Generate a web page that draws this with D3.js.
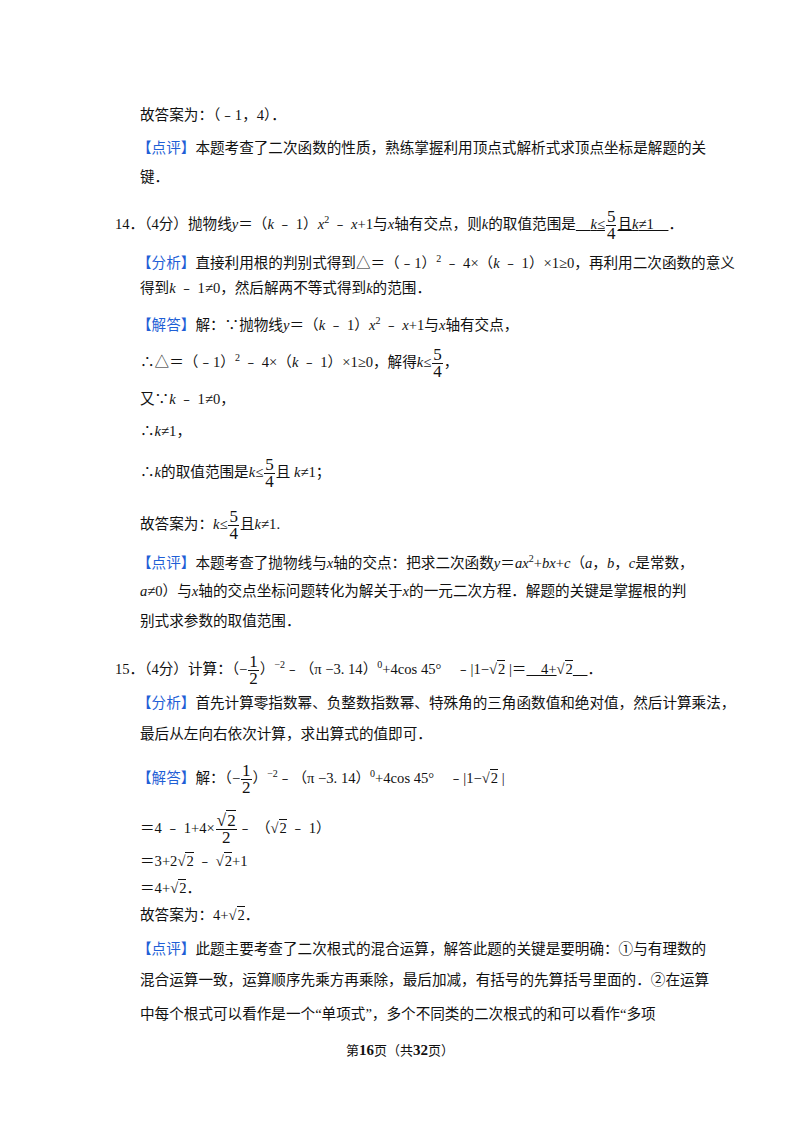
<!DOCTYPE html>
<html><head><meta charset="utf-8">
<script src="https://cdn.jsdelivr.net/npm/d3@7"></script>
<style>
body{margin:0;background:#fff;}
#page{position:relative;width:800px;height:1132px;font-family:"Liberation Serif","Noto Sans CJK SC",serif;font-size:14.6px;color:#111;}
.ln{position:absolute;white-space:nowrap;line-height:20px;}
.bl{color:#1f5fd6;}
.it{font-style:italic;}
.fr{display:inline-block;vertical-align:middle;text-align:center;line-height:16px;font-size:17px;margin:0 1px;}
.fr>span{display:block;}
.fr>.n{border-bottom:1px solid #111;padding:0 1px;}
.sq{border-top:1px solid #111;padding-left:1px;}
.u{text-decoration:underline;}
sup{font-size:10px;}
</style></head><body><div id="page"></div>
<script>
// each line: [left, top, segments]; segment: string | {b} blue | {i} italic | {f:[n,d]} fraction | {s} sqrt | {sup} | {u:[...]} underline
const lines=[
[140,105,["故答案为：（﹣1，4）．"]],
[137,138,[{b:"【点评】"},"本题考查了二次函数的性质，熟练掌握利用顶点式解析式求顶点坐标是解题的关"]],
[140,167,["键．"]],
[115,209,["14．（4分）抛物线",{i:"y"},"＝（",{i:"k"}," ﹣ 1）",{i:"x"},{sup:"2"}," ﹣ ",{i:"x"},"+1与",{i:"x"},"轴有交点，则",{i:"k"},"的取值范围是",{u:["　",{i:"k"},"≤",{f:["5","4"]},"且",{i:"k"},"≠1　"]},"．"]],
[137,249,[{b:"【分析】"},"直接利用根的判别式得到△＝（﹣1）",{sup:"2"}," ﹣ 4×（",{i:"k"}," ﹣ 1）×1≥0，再利用二次函数的意义"]],
[140,278,["得到",{i:"k"}," ﹣ 1≠0，然后解两不等式得到",{i:"k"},"的范围．"]],
[137,311,[{b:"【解答】"},"解：∵抛物线",{i:"y"},"＝（",{i:"k"}," ﹣ 1）",{i:"x"},{sup:"2"}," ﹣ ",{i:"x"},"+1与",{i:"x"},"轴有交点，"]],
[140,347,["∴△＝（﹣1）",{sup:"2"}," ﹣ 4×（",{i:"k"}," ﹣ 1）×1≥0，解得",{i:"k"},"≤",{f:["5","4"]},"，"]],
[140,389,["又∵",{i:"k"}," ﹣ 1≠0，"]],
[140,421,["∴",{i:"k"},"≠1，"]],
[140,457,["∴",{i:"k"},"的取值范围是",{i:"k"},"≤",{f:["5","4"]},"且 ",{i:"k"},"≠1；"]],
[140,509,["故答案为：",{i:"k"},"≤",{f:["5","4"]},"且",{i:"k"},"≠1."]],
[137,549,[{b:"【点评】"},"本题考查了抛物线与",{i:"x"},"轴的交点：把求二次函数",{i:"y"},"＝",{i:"ax"},{sup:"2"},"+",{i:"bx"},"+",{i:"c"},"（",{i:"a"},"，",{i:"b"},"，",{i:"c"},"是常数，"]],
[140,581,[{i:"a"},"≠0）与",{i:"x"},"轴的交点坐标问题转化为解关于",{i:"x"},"的一元二次方程．解题的关键是掌握根的判"]],
[140,611,["别式求参数的取值范围．"]],
[115,654,["15．（4分）计算：（",{f:["1","2"],neg:1},"）",{sup:"−2"},"﹣（π −3. 14）",{sup:"0"},"+4cos 45°　﹣|1−",{s:"2"}," |＝",{u:["　4+"]},{s:"2"},{u:["　"]},"．"]],
[137,693,[{b:"【分析】"},"首先计算零指数幂、负整数指数幂、特殊角的三角函数值和绝对值，然后计算乘法，"]],
[140,724,["最后从左向右依次计算，求出算式的值即可．"]],
[137,763,[{b:"【解答】"},"解：（",{f:["1","2"],neg:1},"）",{sup:"−2"},"﹣（π −3. 14）",{sup:"0"},"+4cos 45°　﹣|1−",{s:"2"}," |"]],
[140,813,["＝4 ﹣ 1+4×",{f:[{s:"2"},"2"]},"﹣ （",{s:"2"}," ﹣ 1）"]],
[140,851,["＝3+2",{s:"2"}," ﹣ ",{s:"2"},"+1"]],
[140,878,["＝4+",{s:"2"},"．"]],
[140,905,["故答案为：4+",{s:"2"},"．"]],
[137,939,[{b:"【点评】"},"此题主要考查了二次根式的混合运算，解答此题的关键是要明确：①与有理数的"]],
[140,970,["混合运算一致，运算顺序先乘方再乘除，最后加减，有括号的先算括号里面的．②在运算"]],
[140,1004,["中每个根式可以看作是一个“单项式”，多个不同类的二次根式的和可以看作“多项"]]
];
const footer=["第","16","页（共","32","页）"];

const page=d3.select("#page");
function render(sel,segs){
  segs.forEach(s=>{
    if(typeof s==="string"){sel.append("span").text(s);return;}
    if(s.b){sel.append("span").attr("class","bl").text(s.b);return;}
    if(s.i){sel.append("span").attr("class","it").text(s.i);return;}
    if(s.sup){sel.append("sup").text(s.sup);return;}
    if(s.s){sel.append("span").text("√");sel.append("span").attr("class","sq").text(s.s);return;}
    if(s.u){render(sel.append("span").attr("class","u"),s.u);return;}
    if(s.f){
      if(s.neg) sel.append("span").text("−");
      const f=sel.append("span").attr("class","fr");
      const n=f.append("span").attr("class","n");
      typeof s.f[0]==="string"?n.text(s.f[0]):render(n,[s.f[0]]);
      f.append("span").text(s.f[1]);
    }
  });
}
lines.forEach(([x,y,segs])=>{
  const d=page.append("div").attr("class","ln").style("left",x+"px").style("top",y+"px");
  render(d,segs);
});
const ft=page.append("div").attr("class","ln").style("left","0px").style("width","800px").style("text-align","center").style("top","1040px").style("font-size","13px");
footer.forEach((t,i)=>ft.append("span").style("font-weight",i%2?"bold":"normal").style("font-size",i%2?"15px":"13px").text(t));
</script></body></html>
